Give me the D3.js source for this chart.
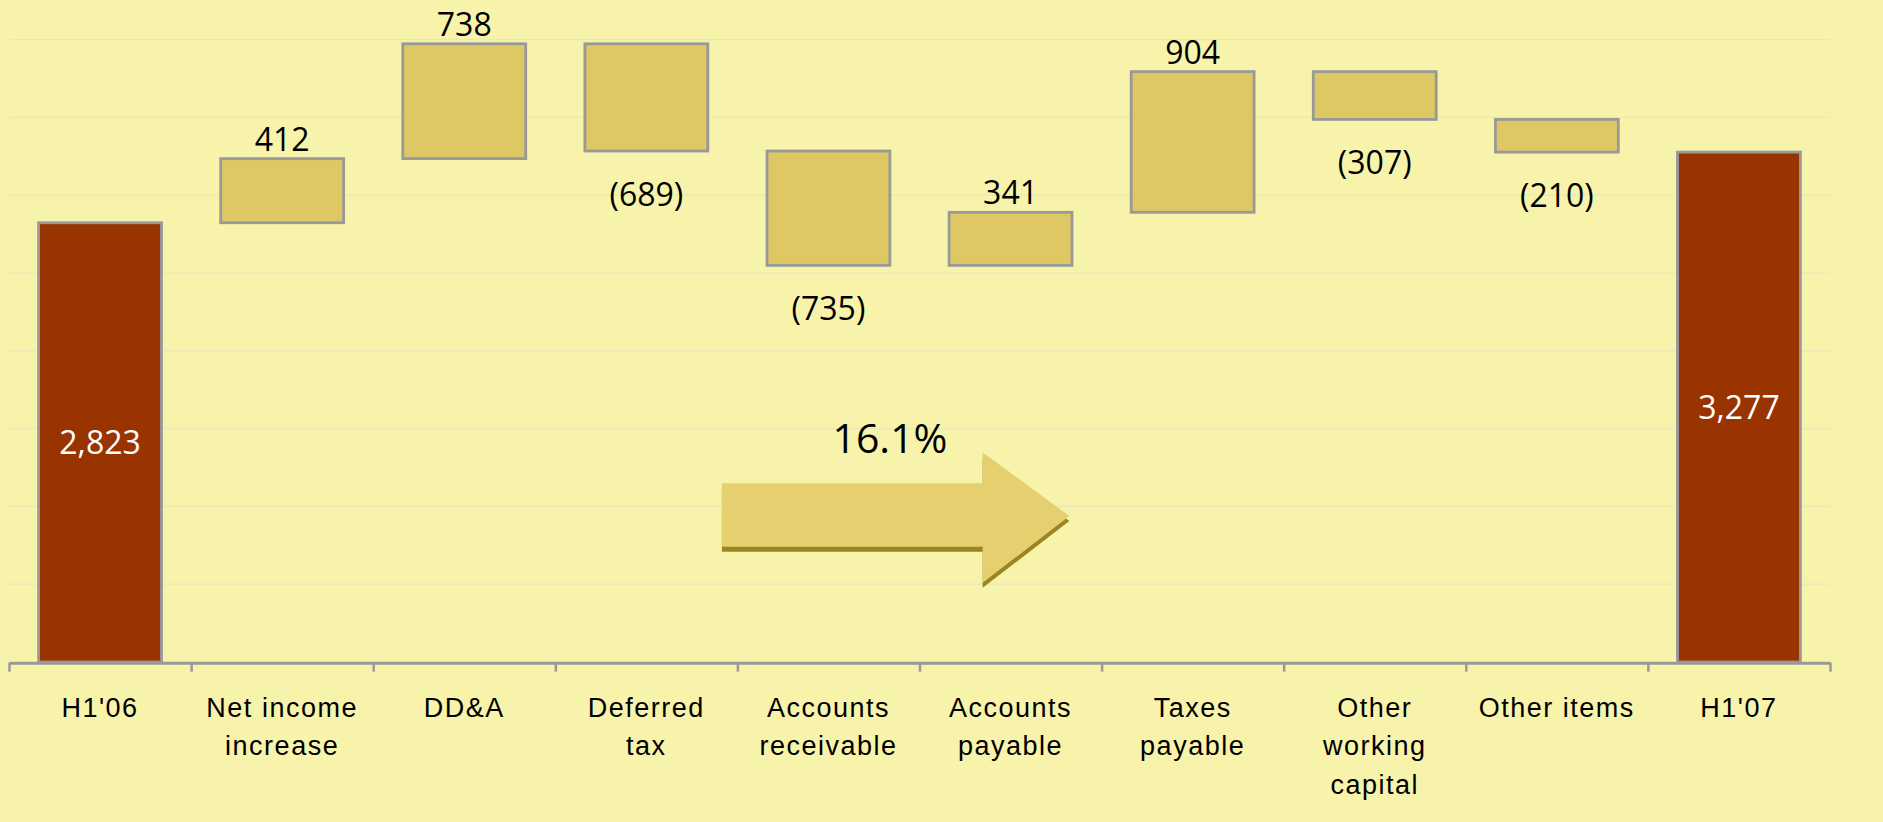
<!DOCTYPE html>
<html>
<head>
<meta charset="utf-8">
<script src="https://cdn.jsdelivr.net/npm/d3@7"></script>
<style>
  body { margin: 0; background: #f7f3ab; }
  svg { display: block; }
</style>
</head>
<body>
<svg></svg>
<script>
// waterfall: H1'06 -> H1'07
const categories = ["H1'06", "Net income\nincrease", "DD&A", "Deferred\ntax", "Accounts\nreceivable",
                    "Accounts\npayable", "Taxes\npayable", "Other\nworking\ncapital", "Other items", "H1'07"];
const values     = [2823, 412, 738, -689, -735, 341, 904, -307, -210, 3277];
const isTotal    = [true, false, false, false, false, false, false, false, false, true];
const gridValues = [500, 1000, 1500, 2000, 2500, 3000, 3500, 4000];
const growthText = "16.1%";

let width = 1883, height = 822,
    plotLeft = 9, plotRight = 1830, plotTop = 39.6, plotBottom = 662;

let svg = d3.select("svg").attr("width", width).attr("height", height);

svg.append("rect").attr("width", width).attr("height", height).attr("fill", "#f7f3ab");

let x = d3.scaleBand().domain(d3.range(categories.length)).range([plotLeft, plotRight]).padding(0),
    xEdge = d3.scaleLinear().domain([0, categories.length]).range([plotLeft, plotRight]),
    y = d3.scaleLinear().domain([0, 4000]).range([plotBottom, plotTop]),
    barW = x.bandwidth() * 0.675;

// running totals for the floating bars
let run = 0;
let bars = values.map((v, i) => {
  let start, end;
  if (isTotal[i]) { start = 0; end = v; run = v; }
  else { start = run; end = run + v; run = end; }
  return { i, v, lo: Math.min(start, end), hi: Math.max(start, end), total: isTotal[i] };
});

// gridlines
svg.append("g")
  .selectAll("line")
  .data(gridValues)
  .enter()
  .append("line")
  .attr("x1", plotLeft).attr("x2", plotRight)
  .attr("y1", d => y(d)).attr("y2", d => y(d))
  .attr("stroke", "#ece6b8")
  .attr("stroke-width", 1.2);

// bars
svg.append("g")
  .selectAll("rect")
  .data(bars)
  .enter()
  .append("rect")
  .attr("x", d => x(d.i) + (x.bandwidth() - barW) / 2)
  .attr("y", d => y(d.hi))
  .attr("width", barW)
  .attr("height", d => y(d.lo) - y(d.hi))
  .attr("fill", d => d.total ? "#993300" : "#dfc764")
  .attr("stroke", "#999999")
  .attr("stroke-width", 2.8);

// axis with ticks at the category edges
let axis = svg.append("g")
  .attr("transform", `translate(0,${plotBottom + 0.7})`)
  .call(d3.axisBottom(xEdge).tickValues(d3.range(categories.length + 1)).tickFormat("").tickSize(9).tickSizeOuter(0));
axis.select(".domain").attr("stroke", "#999999").attr("stroke-width", 3);
axis.selectAll(".tick line").attr("stroke", "#999999").attr("stroke-width", 2.5);

// category labels
let cat = svg.append("g")
  .selectAll("text")
  .data(categories)
  .enter()
  .append("text")
  .attr("x", (d, i) => x(i) + x.bandwidth() / 2)
  .attr("y", 716.5)
  .style("font-family", "'Liberation Sans', Arial, sans-serif")
  .style("font-size", "27px")
  .style("letter-spacing", "1.5px")
  .style("text-anchor", "middle")
  .attr("fill", "#000");
cat.each(function(d) {
  d3.select(this).selectAll("tspan")
    .data(d.split("\n"))
    .enter()
    .append("tspan")
    .attr("x", d3.select(this).attr("x"))
    .attr("dy", (t, j) => j === 0 ? 0 : 38.5)
    .text(t => t);
});

// value labels
let fmt = d3.format(",");
svg.append("g")
  .selectAll("text")
  .data(bars)
  .enter()
  .append("text")
  .attr("x", d => x(d.i) + x.bandwidth() / 2)
  .attr("y", d => d.total ? (y(d.lo) + y(d.hi)) / 2 : d.v > 0 ? y(d.hi) - 8 : y(d.lo) + 55)
  .attr("dy", d => d.total ? "0.36em" : 0)
  .text(d => d.v < 0 ? `(${fmt(-d.v)})` : fmt(d.v))
  .attr("fill", d => d.total ? "#ffffff" : "#000000")
  .style("font-family", "'Open Sans', sans-serif")
  .style("font-size", "32px")
  .style("text-anchor", "middle");

// growth arrow (index units on x, values on y)
let arrow = [[3.915, 1148], [5.347, 1148], [5.347, 1347], [5.823, 938], [5.347, 509], [5.347, 741], [3.915, 741]];
let arrowPath = d3.line().x(d => xEdge(d[0])).y(d => y(d[1]));
svg.append("path")
  .attr("d", arrowPath(arrow) + "Z")
  .attr("transform", "translate(0,5)")
  .attr("fill", "#9b8421");
svg.append("path")
  .attr("d", arrowPath(arrow) + "Z")
  .attr("fill", "#e6cf6e");

svg.append("text")
  .attr("x", xEdge(4.838))
  .attr("y", y(1343))
  .text(growthText)
  .style("font-family", "'Open Sans', sans-serif")
  .style("font-size", "41px")
  .style("text-anchor", "middle")
  .attr("fill", "#000");
</script>
</body>
</html>
